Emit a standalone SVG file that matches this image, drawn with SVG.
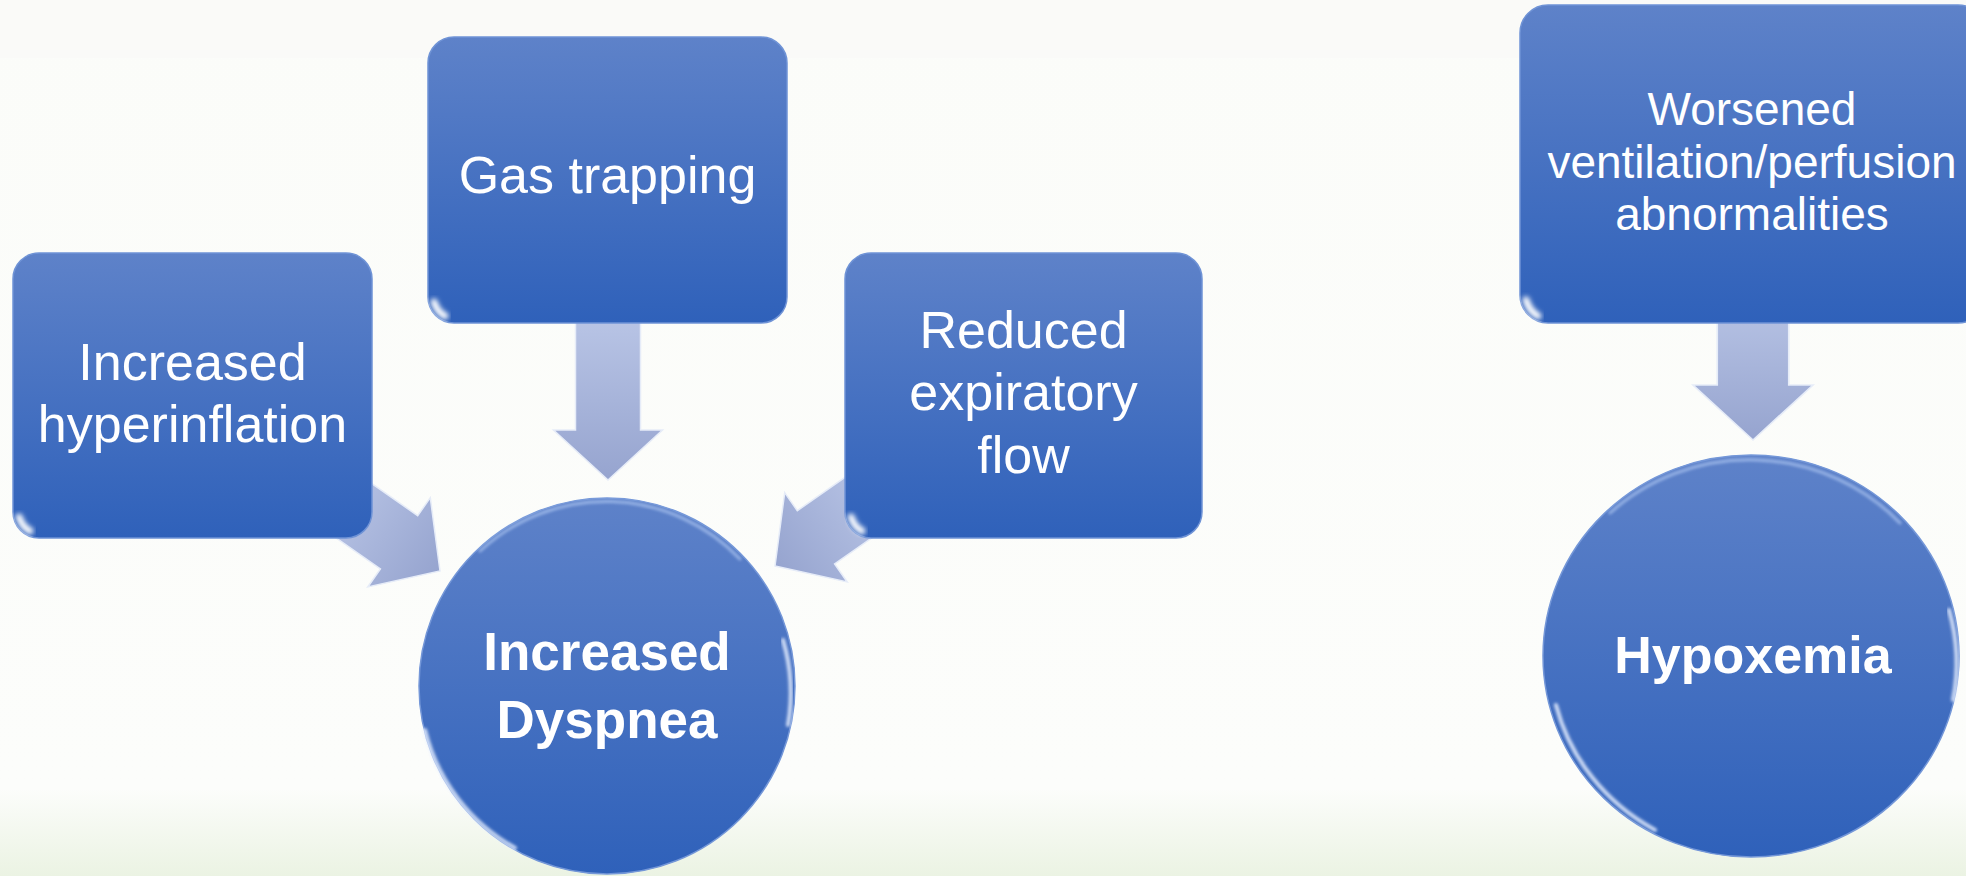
<svg xmlns="http://www.w3.org/2000/svg" width="1966" height="876" viewBox="0 0 1966 876">
  <defs>
    <linearGradient id="bg" x1="0" y1="0" x2="0" y2="876" gradientUnits="userSpaceOnUse">
      <stop offset="0" stop-color="#fbfcf9"/>
      <stop offset="0.9" stop-color="#fcfdfb"/>
      <stop offset="1" stop-color="#ebf3e3"/>
    </linearGradient>
    <linearGradient id="blue" x1="0" y1="0" x2="0" y2="1">
      <stop offset="0" stop-color="#5e82c9"/>
      <stop offset="1" stop-color="#2f61ba"/>
    </linearGradient>
    <linearGradient id="arrowFill" x1="0" y1="0" x2="1" y2="0">
      <stop offset="0" stop-color="#b8c4e5"/>
      <stop offset="1" stop-color="#96a4cf"/>
    </linearGradient>
    <filter id="soft" x="-20%" y="-20%" width="140%" height="140%">
      <feGaussianBlur stdDeviation="1.5"/>
    </filter>
    <filter id="softer" x="-50%" y="-50%" width="200%" height="200%">
      <feGaussianBlur stdDeviation="2.5"/>
    </filter>
    <polygon id="arrow" points="0,0 -50,-54.5 -50,-32.5 -160,-32.5 -160,32.5 -50,32.5 -50,54.5"/>
    <polygon id="arrowS" points="0,0 -50,-54.5 -50,-32.5 -130,-32.5 -130,32.5 -50,32.5 -50,54.5"/>
  </defs>
  <style>
    .box { fill: url(#blue); stroke: #6f93d6; stroke-width: 1.5; }
    .topHi { fill: none; stroke: #b9cff5; stroke-width: 3; stroke-linecap: round; opacity: 0.85; }
    .sideHi { fill: none; stroke: #8eaee6; stroke-width: 3; opacity: 0.6; }
    .cornerHi { fill: none; stroke: #ffffff; stroke-width: 7; stroke-linecap: round; }
    .arr { fill: url(#arrowFill); stroke: #e6ecf8; stroke-width: 1.5; stroke-linejoin: miter; }
    .lbl { font-family: "Liberation Sans", Arial, sans-serif; fill: #ffffff; text-anchor: middle; font-size: 52px; }
    .bold { font-weight: bold; }
    .rimHi { fill: none; stroke: #e8f0ff; stroke-width: 4; stroke-linecap: round; opacity: 0.85; }
    .rimTop { fill: none; stroke: #a9c2ef; stroke-width: 3; stroke-linecap: round; opacity: 0.8; }
  </style>

  <rect x="0" y="0" width="1966" height="876" fill="url(#bg)"/>
  <rect x="0" y="0" width="1966" height="58" fill="#fafaf8"/>

  <g id="connectors">
    <use href="#arrow" class="arr" transform="translate(608,480) rotate(90)"/>
    <use href="#arrowS" class="arr" transform="translate(440,571) rotate(35)"/>
    <use href="#arrowS" class="arr" transform="translate(775,566) rotate(145)"/>
    <use href="#arrowS" class="arr" transform="translate(1753,440) rotate(90) scale(1.1)"/>
  </g>

  <g id="node-hyperinflation">
    <rect class="box" x="13" y="253" width="359" height="285" rx="26" ry="26"/>
    <path class="topHi" d="M40,260 H345" filter="url(#soft)"/>
    <path class="sideHi" d="M18,280 V510" filter="url(#soft)"/>
    <path class="sideHi" d="M367,280 V510" filter="url(#soft)"/>
    <path class="cornerHi" d="M19,517 Q22,527 30,531" filter="url(#softer)"/>
    <text class="lbl" x="192.5" y="380">Increased</text>
    <text class="lbl" x="192.5" y="442">hyperinflation</text>
  </g>

  <g id="node-gas-trapping">
    <rect class="box" x="428" y="37" width="359" height="286" rx="26" ry="26"/>
    <path class="topHi" d="M455,44 H760" filter="url(#soft)"/>
    <path class="sideHi" d="M433,64 V296" filter="url(#soft)"/>
    <path class="sideHi" d="M782,64 V296" filter="url(#soft)"/>
    <path class="cornerHi" d="M434,302 Q437,312 445,316" filter="url(#softer)"/>
    <text class="lbl" x="607.5" y="193">Gas trapping</text>
  </g>

  <g id="node-reduced-flow">
    <rect class="box" x="845" y="253" width="357" height="285" rx="26" ry="26"/>
    <path class="topHi" d="M872,260 H1175" filter="url(#soft)"/>
    <path class="sideHi" d="M850,280 V510" filter="url(#soft)"/>
    <path class="sideHi" d="M1197,280 V510" filter="url(#soft)"/>
    <path class="cornerHi" d="M851,517 Q854,527 862,531" filter="url(#softer)"/>
    <text class="lbl" x="1023.5" y="348">Reduced</text>
    <text class="lbl" x="1023.5" y="410">expiratory</text>
    <text class="lbl" x="1023.5" y="473">flow</text>
  </g>

  <g id="node-vq">
    <rect class="box" x="1520" y="5" width="466" height="318" rx="28" ry="28"/>
    <path class="topHi" d="M1548,12 H1960" filter="url(#soft)"/>
    <path class="sideHi" d="M1525,34 V294" filter="url(#soft)"/>
    <path class="cornerHi" d="M1526,300 Q1529,311 1538,316" filter="url(#softer)"/>
    <text class="lbl" x="1752" y="125" style="font-size:46px">Worsened</text>
    <text class="lbl" x="1752" y="178" style="font-size:46px">ventilation/perfusion</text>
    <text class="lbl" x="1752" y="230" style="font-size:46px">abnormalities</text>
  </g>

  <g id="node-dyspnea">
    <circle cx="607" cy="686" r="188" fill="url(#blue)" stroke="#7497d8" stroke-width="1.5"/>
    <path class="rimTop" d="M480,551 A185,185 0 0 1 740,559" filter="url(#soft)"/>
    <path class="rimHi" d="M425,730 A186,186 0 0 0 515,848" filter="url(#soft)"/>
    <path class="rimHi" d="M783,640 A186,186 0 0 1 788,725" filter="url(#soft)" opacity="0.5"/>
    <text class="lbl bold" x="607" y="670" style="font-size:53px">Increased</text>
    <text class="lbl bold" x="607" y="738" style="font-size:53px">Dyspnea</text>
  </g>

  <g id="node-hypoxemia">
    <ellipse cx="1751" cy="656" rx="208" ry="201" fill="url(#blue)" stroke="#7497d8" stroke-width="1.5"/>
    <path class="rimTop" d="M1610,513 A205,198 0 0 1 1900,523" filter="url(#soft)"/>
    <path class="rimHi" d="M1556,705 A206,199 0 0 0 1655,830" filter="url(#soft)"/>
    <path class="rimHi" d="M1949,610 A206,199 0 0 1 1953,700" filter="url(#soft)" opacity="0.5"/>
    <text class="lbl bold" x="1753" y="673">Hypoxemia</text>
  </g>
</svg>
